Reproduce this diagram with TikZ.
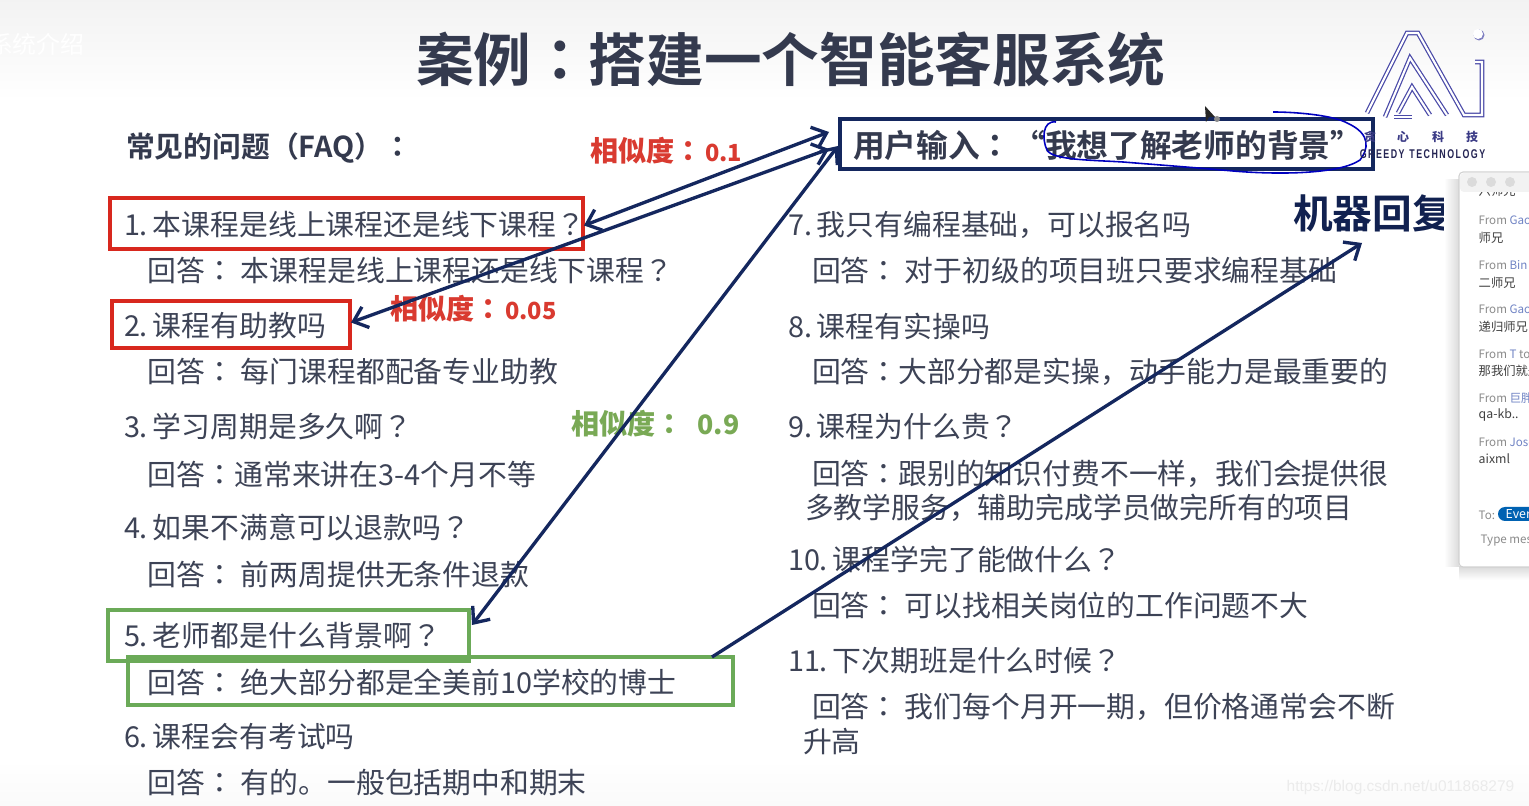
\documentclass[tikz,border=0pt]{standalone}
\usepackage{fontspec}
\usepackage{newunicodechar}
\setmainfont{Noto Sans CJK SC}
\newfontfamily\medfont{Noto Sans CJK SC}[UprightFont={* Bold}]
\newfontfamily\punctfont{Noto Sans CJK TC}
\newfontfamily\punctmed{Noto Sans CJK TC}[UprightFont={* Bold}]
\newfontfamily\urlfont{Liberation Sans}
\newunicodechar{：}{{\punctfont\char"FF1A}}
\newunicodechar{？}{{\punctfont\char"FF1F}}
\newcommand{\medcolon}{{\punctmed\char"FF1A}}
\newcommand{\numgap}{\kern.17em}
\newcommand{\simval}[1]{{\fontsize{6.7}{8}\selectfont #1}}
\usetikzlibrary{arrows.meta,calc}
\definecolor{inkgray}{HTML}{3D4356}
\definecolor{navyline}{HTML}{14275E}
\definecolor{boxred}{HTML}{D8281E}
\definecolor{boxgreen}{HTML}{6BAA58}
\definecolor{hitred}{HTML}{D93A30}
\definecolor{hitgreen}{HTML}{79A955}
\definecolor{logoblue}{HTML}{4A4AA8}
\definecolor{fromblue}{HTML}{6F83C4}
\definecolor{fromgray}{HTML}{8A8A8A}
\definecolor{titleink}{HTML}{343A4E}

\begin{document}
\begin{tikzpicture}[
    txt/.style={anchor=west, inner sep=0pt, outer sep=0pt, yshift=-.01cm, text=inkgray, font=\fontsize{8.2}{10}\selectfont},
    heading/.style={txt, font=\medfont\fontsize{8.2}{10}\selectfont, text=titleink},
    hit/.style={txt, font=\fontsize{8}{10}\selectfont\bfseries},
    frame/.style={draw, line width=1pt, inner sep=0pt, outer sep=0pt},
    redbox/.style={frame, draw=boxred},
    greenbox/.style={frame, draw=boxgreen},
    line/.style={line width=.95pt, navyline},
    tip/.style={{Straight Barb[length=1.3mm,width=2.2mm]}-{Straight Barb[length=1.3mm,width=2.2mm]}},
    endtip/.style={-{Straight Barb[length=1.3mm,width=2.2mm]}},
    logoline/.style={draw=logoblue, line width=.35pt, double=white, double distance=.6pt},
    logochar/.style={inner sep=0pt, text=logoblue!80!black, font=\fontsize{3.4}{4}\selectfont\bfseries},
    chat/.style={anchor=west, inner sep=0pt, yshift=-.01cm, text=black!75, font=\fontsize{3.5}{4}\selectfont},
    from/.style={chat, text=fromgray, font=\fontsize{3.3}{4}\selectfont},
    dotbtn/.style={circle, fill=black!14, minimum size=.1cm, inner sep=0pt},
  ]
  \useasboundingbox (0,0) rectangle (15.29,-8.06);
  \clip (0,0) rectangle (15.29,-8.06);
  % screen background
  \fill[white] (0,0) rectangle (15.29,-8.06);
  \shade[top color=black!5, bottom color=white] (0,0) rectangle (15.29,-1);
  \shade[top color=white, bottom color=black!2] (0,-7.6) rectangle (15.29,-8.06);
  \node[txt, text=white, font=\fontsize{6.8}{8}\selectfont] (tabname) at (-.11,-.43) {系统介绍};
  \node[anchor=west, inner sep=0pt, text=black!8, font=\urlfont\fontsize{4.4}{5}\selectfont] (urlmark) at (12.86,-7.88) {https://blog.csdn.net/u011868279};

  % title and heading
  \node[txt, font=\medfont\fontsize{16.4}{18}\selectfont, text=titleink] (title) at (4.16,-.58) {案例\medcolon 搭建一个智能客服系统};
  \node[heading] (faq) at (1.26,-1.47) {常见的问题（FAQ）\medcolon};

  % left column
  \node[txt] (q1) at (1.24,-2.24) {1.\numgap 本课程是线上课程还是线下课程？};
  \node[txt] (a1) at (1.48,-2.70) {回答： 本课程是线上课程还是线下课程？};
  \node[txt] (q2) at (1.24,-3.25) {2.\numgap 课程有助教吗};
  \node[txt] (a2) at (1.48,-3.71) {回答： 每门课程都配备专业助教};
  \node[txt] (q3) at (1.24,-4.26) {3.\numgap 学习周期是多久啊？};
  \node[txt] (a3) at (1.48,-4.73) {回答：通常来讲在3-4个月不等};
  \node[txt] (q4) at (1.24,-5.27) {4.\numgap 如果不满意可以退款吗？};
  \node[txt] (a4) at (1.48,-5.74) {回答： 前两周提供无条件退款};
  \node[txt] (q5) at (1.24,-6.35) {5.\numgap 老师都是什么背景啊？};
  \node[txt] (a5) at (1.48,-6.81) {回答： 绝大部分都是全美前10学校的博士};
  \node[txt] (q6) at (1.24,-7.36) {6.\numgap 课程会有考试吗};
  \node[txt] (a6) at (1.48,-7.82) {回答： 有的。一般包括期中和期末};

  % right column
  \node[txt] (q7) at (7.88,-2.24) {7.\numgap 我只有编程基础，可以报名吗};
  \node[txt] (a7) at (8.12,-2.70) {回答： 对于初级的项目班只要求编程基础};
  \node[txt] (q8) at (7.88,-3.25) {8.\numgap 课程有实操吗};
  \node[txt] (a8) at (8.12,-3.71) {回答：大部分都是实操，动手能力是最重要的};
  \node[txt] (q9) at (7.88,-4.26) {9.\numgap 课程为什么贵？};
  \node[txt] (a9) at (8.12,-4.73) {回答：跟别的知识付费不一样，我们会提供很};
  \node[txt] (a9b) at (8.05,-5.07) {多教学服务，辅助完成学员做完所有的项目};
  \node[txt] (q10) at (7.88,-5.58) {10.\numgap 课程学完了能做什么？};
  \node[txt] (a10) at (8.12,-6.05) {回答： 可以找相关岗位的工作问题不大};
  \node[txt] (q11) at (7.88,-6.60) {11.\numgap 下次期班是什么时候？};
  \node[txt] (a11) at (8.12,-7.06) {回答： 我们每个月开一期，但价格通常会不断};
  \node[txt] (a11b) at (8.03,-7.41) {升高};

  % similarity labels
  \node[hit, text=hitred] (sim1) at (5.90,-1.50) {相似度：\kern.1em\simval{0.1}};
  \node[hit, text=hitred] (sim2) at (3.90,-3.08) {相似度：\kern.1em\simval{0.05}};
  \node[hit, text=hitgreen] (sim3) at (5.71,-4.23) {相似度：\kern.5em{\fontsize{7.6}{8}\selectfont 0.9}};

  % frames
  \node[redbox, minimum width=4.73cm, minimum height=.51cm] (qbox1) at (3.465,-2.235) {};
  \node[redbox, minimum width=2.38cm, minimum height=.47cm] (qbox2) at (2.31,-3.245) {};
  \node[greenbox, minimum width=3.61cm, minimum height=.51cm] (qbox5) at (2.885,-6.355) {};
  \node[greenbox, minimum width=6.05cm, minimum height=.48cm] (abox5) at (4.305,-6.81) {};
  \node[frame, draw=navyline, anchor=west, minimum width=5.33cm, minimum height=.50cm] (input) at (8.40,-1.44) {};
  \node[txt, text=titleink, font=\medfont\fontsize{9.03}{10}\selectfont] (inputtext) at (8.53,-1.44) {用户输入\medcolon\kern.05em “我想了解老师的背景”};
  \node[txt, text=navyline!85!black, font=\medfont\fontsize{11.3}{13}\selectfont] (reply) at (12.93,-2.12) {机器回复};

  % connectors
  \coordinate (inA) at (8.29,-1.32);
  \coordinate (inB) at (8.29,-1.49);
  \coordinate (inC) at (8.38,-1.46);
  \coordinate (replyin) at (13.62,-2.43);
  \draw[line, tip] ($(qbox1.east)+(.01,-.02)$) -- (inA);
  \draw[line, tip] ($(qbox2.east)+(.01,.02)$) -- (inB);
  \draw[line, tip] ($(qbox5.east)+(.03,.105)$) -- (inC);
  \draw[line, endtip] ($(abox5.north east)+(-.21,0)$) -- (replyin);

  % pen stroke round the quoted text
  \draw[blue!75!black, line width=.45pt] (10.56,-1.22) .. controls (10.42,-1.20) and (10.42,-1.40) .. (10.47,-1.50)
    .. controls (10.52,-1.60) and (10.90,-1.60) .. (11.23,-1.62)
    .. controls (11.60,-1.65) and (12.00,-1.68) .. (12.33,-1.71)
    .. controls (12.80,-1.75) and (13.40,-1.74) .. (13.60,-1.60)
    .. controls (13.68,-1.50) and (13.72,-1.34) .. (13.47,-1.23)
    .. controls (13.35,-1.16) and (13.00,-1.12) .. (12.73,-1.12);

  % mouse pointer
  \fill[black!85] (12.05,-1.06) -- (12.06,-1.22) -- (12.09,-1.17) -- (12.15,-1.17) -- cycle;
  \fill[black!45] (12.17,-1.19) circle (.03);

  % logo
  \draw[logoline] (13.67,-1.13) -- (14.07,-.33) -- (14.18,-.33) -- (14.64,-1.15) -- (14.82,-1.15) -- (14.82,-.62) -- (14.75,-.62);
  \draw[logoline] (13.85,-1.17) -- (14.10,-.58) -- (14.47,-1.15);
  \draw[logoline] (13.98,-1.13) -- (14.12,-.87) -- (14.30,-1.15);
  \draw[logoline] (13.94,-1.17) -- (14.12,-1.17);
  \fill[logoblue!70] (14.79,-.35) circle (.055);
  \fill[white] (14.78,-.34) circle (.05);
  \node[logochar] (logoA) at (13.70,-1.37) {贪};
  \node[logochar] (logoB) at (14.03,-1.37) {心};
  \node[logochar] (logoC) at (14.38,-1.37) {科};
  \node[logochar] (logoD) at (14.72,-1.37) {技};
  \node[inner sep=0pt, xscale=.7, text=black!50!logoblue, font=\urlfont\fontsize{3.6}{4}\selectfont\bfseries] (logoname) at (14.225,-1.54) {G\,R\,E\,E\,D\,Y\ \ T\,E\,C\,H\,N\,O\,L\,O\,G\,Y};

  % chat window
  \shade[left color=white, right color=black!14] (14.44,-1.80) rectangle (14.59,-5.67);
  \shade[top color=black!14, bottom color=white] (14.59,-5.67) rectangle (15.29,-5.80);
  \draw[black!18, line width=.3pt, fill=white, rounded corners=.04cm] (14.59,-1.72) rectangle (15.6,-5.67);
  \begin{scope}
    \clip (14.59,-1.92) rectangle (15.29,-5.66);
    \node[chat] (chat0) at (14.78,-1.90) {六师兄};
  \end{scope}
  \fill[black!5, rounded corners=.04cm] (14.60,-1.73) rectangle (15.6,-1.92);
  \node[dotbtn] (btnA) at (14.72,-1.82) {};
  \node[dotbtn] (btnB) at (14.91,-1.82) {};
  \node[dotbtn] (btnC) at (15.10,-1.82) {};
  \node[from] (from1) at (14.78,-2.19) {From \textcolor{fromblue}{Gao}};
  \node[chat] (msg1) at (14.78,-2.37) {师兄};
  \node[from] (from2) at (14.78,-2.64) {From \textcolor{fromblue}{Bin}};
  \node[chat] (msg2) at (14.78,-2.82) {二师兄};
  \node[from] (from3) at (14.78,-3.08) {From \textcolor{fromblue}{Gao}};
  \node[chat] (msg3) at (14.78,-3.26) {递归师兄};
  \node[from] (from4) at (14.78,-3.53) {From \textcolor{fromblue}{T} to};
  \node[chat] (msg4) at (14.78,-3.70) {那我们就是};
  \node[from] (from5) at (14.78,-3.97) {From \textcolor{fromblue}{巨胖}};
  \node[chat] (msg5) at (14.78,-4.14) {qa-kb..};
  \node[from] (from6) at (14.78,-4.41) {From \textcolor{fromblue}{Jose}};
  \node[chat] (msg6) at (14.78,-4.58) {aixml};
  \node[from] (tolabel) at (14.78,-5.14) {To:};
  \fill[blue!45!cyan!70!black, rounded corners=.07cm] (14.98,-5.07) rectangle (15.5,-5.21);
  \node[chat, text=white] (toname) at (15.05,-5.14) {Everyone};
  \node[from] (typehint) at (14.80,-5.40) {Type message};
\end{tikzpicture}
\end{document}
